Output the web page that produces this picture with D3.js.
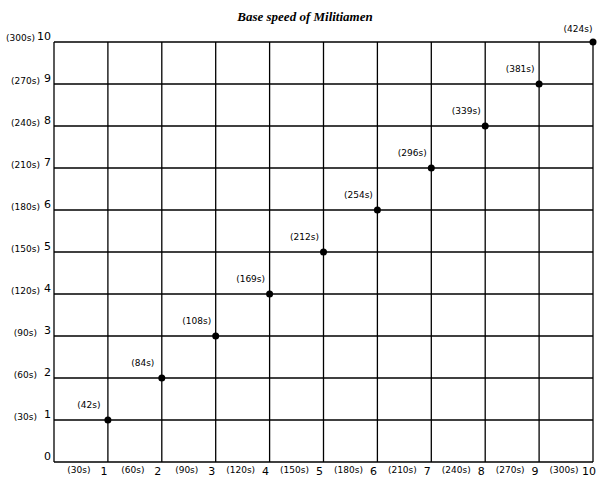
<!DOCTYPE html><html><head><script src="https://cdn.jsdelivr.net/npm/d3@7"></script>
<style>body{margin:0;background:#fff}</style></head><body><svg id="c" width="601" height="480"></svg>
<script>
const ticks=[0,1,2,3,4,5,6,7,8,9,10];
const timeLabels=["(30s)","(60s)","(90s)","(120s)","(150s)","(180s)","(210s)","(240s)","(270s)","(300s)"];
const pointX=[1,2,3,4,5,6,7,8,9,10];
const pointY=[1,2,3,4,5,6,7,8,9,10];
const pointLabels=["(42s)","(84s)","(108s)","(169s)","(212s)","(254s)","(296s)","(339s)","(381s)","(424s)"];
const svg=d3.select("#c");
const x=d3.scaleLinear().domain([0,10]).range([54,593]);
const y=d3.scaleLinear().domain([0,10]).range([462,42]);
const font="Tahoma, 'DejaVu Sans', sans-serif";
svg.append("text").attr("x",305).attr("y",21).attr("text-anchor","middle")
 .attr("font-family","'Liberation Serif','Times New Roman','DejaVu Serif',serif").attr("font-style","italic").attr("font-weight","bold").attr("font-size",13).text("Base speed of Militiamen");
const g=svg.append("g");
g.selectAll(".v").data(ticks.slice(1)).join("line").attr("x1",d=>x(d)).attr("x2",d=>x(d)).attr("y1",y(0)).attr("y2",y(10)).attr("stroke","#000").attr("stroke-width",1.3);
g.selectAll(".h").data(ticks.slice(1)).join("line").attr("y1",d=>y(d)).attr("y2",d=>y(d)).attr("x1",x(0)).attr("x2",x(10)).attr("stroke","#000").attr("stroke-width",1.3);
g.append("line").attr("x1",x(0)).attr("x2",x(0)).attr("y1",y(0)).attr("y2",y(10)).attr("stroke","#000").attr("stroke-width",1.3);
g.append("line").attr("x1",x(0)).attr("x2",x(10)).attr("y1",y(0)).attr("y2",y(0)).attr("stroke","#000").attr("stroke-width",1.3);
const t=svg.append("g").attr("font-family",font).attr("fill","#000");
t.selectAll(".yl").data(ticks).join("text").attr("x",51).attr("y",d=>y(d)-2).attr("text-anchor","end").attr("font-size",11).text(d=>d);
t.selectAll(".yt").data(timeLabels).join("text").attr("y",(d,i)=>y(i+1)+(i===9?-1:0)).attr("x",(d,i)=>i===9?35:(i>=3?40:37)).attr("text-anchor","end").attr("font-size",9).text(d=>d);
t.selectAll(".xl").data(ticks.slice(1)).join("text").attr("x",d=>x(d)-4).attr("y",475).attr("text-anchor","middle").attr("font-size",11).text(d=>d);
t.selectAll(".xt").data(timeLabels).join("text").attr("x",(d,i)=>x(i+0.5)-2).attr("y",473).attr("text-anchor","middle").attr("font-size",9).text(d=>d);
svg.selectAll(".p").data(pointX).join("circle").attr("cx",d=>x(d)).attr("cy",(d,i)=>y(pointY[i])).attr("r",3.5).attr("fill","#000");
t.selectAll(".pl").data(pointLabels).join("text").attr("x",(d,i)=>x(pointX[i])-(i===9?15:19)).attr("y",(d,i)=>y(pointY[i])-(i===9?10:12)).attr("text-anchor","middle").attr("font-size",9).text(d=>d);
</script></body></html>
